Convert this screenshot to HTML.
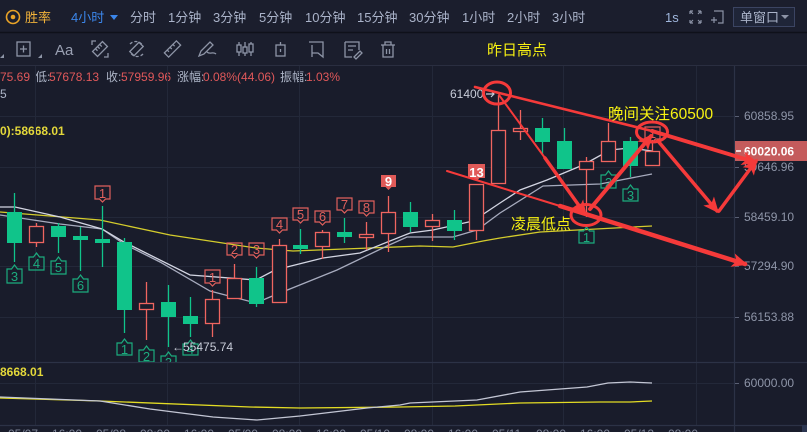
<!DOCTYPE html>
<html><head><meta charset="utf-8">
<style>
html,body{margin:0;padding:0;background:#191c2b;}
svg{display:block;}
text{font-family:"Liberation Sans","Noto Sans CJK SC",sans-serif;}
</style></head>
<body>
<svg width="807" height="432" viewBox="0 0 807 432" xmlns="http://www.w3.org/2000/svg">
<defs>
<clipPath id="main"><rect x="0" y="66" width="734" height="296"/></clipPath>
<clipPath id="sub"><rect x="0" y="363" width="734" height="62"/></clipPath>
<marker id="ah" markerWidth="16" markerHeight="14" refX="13" refY="7" orient="auto" markerUnits="userSpaceOnUse"><path d="M0,0 L16,7 L0,14 L4,7 Z" fill="#f53a3a"/></marker>
</defs>
<!-- backgrounds -->
<rect x="0" y="0" width="807" height="432" fill="#191c2b"/>
<rect x="0" y="0" width="807" height="65" fill="#1b1e2d"/>
<line x1="0" y1="32.5" x2="807" y2="32.5" stroke="#0f111a" stroke-width="1.5"/>
<line x1="0" y1="65.5" x2="807" y2="65.5" stroke="#2a2e40" stroke-width="1"/>

<!-- top bar -->
<circle cx="13" cy="17" r="6.5" fill="none" stroke="#e9a327" stroke-width="1.6"/>
<circle cx="13" cy="17" r="2.3" fill="#e9a327"/>
<g font-size="13" fill="#aab3c9">
<text x="25" y="22" fill="#f0b23a">胜率</text>
<text x="71" y="22" fill="#3b86ea">4小时</text>
<text x="130" y="22">分时</text>
<text x="168" y="22">1分钟</text>
<text x="213" y="22">3分钟</text>
<text x="259" y="22">5分钟</text>
<text x="305" y="22">10分钟</text>
<text x="357" y="22">15分钟</text>
<text x="409" y="22">30分钟</text>
<text x="462" y="22">1小时</text>
<text x="507" y="22">2小时</text>
<text x="552" y="22">3小时</text>
<text x="665" y="22" fill="#9fb6dc">1s</text>
</g>
<polygon points="110,15 118,15 114,20" fill="#3b86ea"/>
<g stroke="#8c93a6" stroke-width="1.2" fill="none">
<path d="M690,11 h3 M690,11 v3 M690,11 l3,3 M701,11 h-3 M701,11 v3 M701,11 l-3,3 M690,23 h3 M690,23 v-3 M690,23 l3,-3 M701,23 h-3 M701,23 v-3 M701,23 l-3,-3"/>
<path d="M714,11 h9 v12 h-5 M711,20 h6 M714,17 v6"/>
</g>
<rect x="733.5" y="7.5" width="61" height="19" fill="#1f2538" stroke="#3b4462" stroke-width="1"/>
<text x="740" y="22" font-size="13" fill="#aab3c9">单窗口</text>
<polygon points="781,15 789,15 785,19" fill="#8c93a6"/>

<!-- toolbar icons -->
<g stroke="#8e95a7" stroke-width="1.3" fill="none">
<polygon points="0,58 4,58 4,54" fill="#8e95a7" stroke="none"/>
<rect x="17" y="42" width="13" height="14"/>
<path d="M23.5,45.5 v7 M20,49 h7"/>
<polygon points="38,58 42,58 42,54" fill="#8e95a7" stroke="none"/>
<g transform="rotate(-45 100 49)"><rect x="93" y="45.5" width="14" height="7"/><path d="M97,45.5 v3 M100,45.5 v3 M103,45.5 v3"/></g>
<path d="M92,45 v-4 h4 M108,53 v4 h-4"/>
<path d="M130,44 a8,8 0 0 1 13,2 M143,54 a8,8 0 0 1 -13,-2" stroke-dasharray="3,2"/>
<g transform="rotate(-45 136.5 49)"><rect x="130" y="46" width="13" height="6"/></g>
<g transform="rotate(-45 172.5 49)"><rect x="164" y="46" width="17" height="6"/><path d="M168,46 v2.5 M172,46 v2.5 M176,46 v2.5"/></g>
<path d="M199,56 l2,-5 l9,-9 l3,3 l-9,9 z M207,52 c3,3 6,-1 9,2"/>
<path d="M239,42 v14 M245,42 v14 M251,42 v14"/>
<rect x="237" y="45" width="4" height="7" fill="#191c2b"/><rect x="243" y="47" width="4" height="6" fill="#191c2b"/><rect x="249" y="44" width="4" height="8" fill="#191c2b"/>
<rect x="276" y="45" width="9" height="11"/><path d="M280.5,42 v3 M280.5,49 v3"/>
<path d="M309,42 h14 v15 l-5,-4 h-6 M312,45 v12"/>
<path d="M345,42 h14 v8 M345,42 v15 h7 M348,46 h8 M348,50 h5 M354,57 l6,-6 l2,2 l-6,6 z"/>
<path d="M381,45 h14 M385,45 v-3 h6 v3 M383,45 v12 h10 v-12 M386.5,49 v5 M389.5,49 v5"/>
</g>
<text x="55" y="55" font-size="15" fill="#9aa0b2">Aa</text>
<text x="487" y="55" font-size="15" fill="#f5ef12">昨日高点</text>

<!-- info row -->
<g font-size="12">
<text x="0" y="81" fill="#e0585a">75.69</text>
<text x="35" y="81" fill="#aeb6c8">低:</text>
<text x="49" y="81" fill="#e0585a">57678.13</text>
<text x="106" y="81" fill="#aeb6c8">收:</text>
<text x="121" y="81" fill="#e0585a">57959.96</text>
<text x="177" y="81" fill="#aeb6c8">涨幅:</text>
<text x="203" y="81" fill="#e0585a">0.08%(44.06)</text>
<text x="280" y="81" fill="#aeb6c8">振幅:</text>
<text x="306" y="81" fill="#e0585a">1.03%</text>
<text x="0" y="98" fill="#aeb6c8">5</text>
<text x="0" y="135" fill="#e4d83a" font-weight="bold">0):58668.01</text>
</g>

<!-- grid -->
<g stroke="#232839" stroke-width="1">
<line x1="35.5" y1="66" x2="35.5" y2="425"/>
<line x1="167.5" y1="66" x2="167.5" y2="425"/>
<line x1="299.5" y1="66" x2="299.5" y2="425"/>
<line x1="432.5" y1="66" x2="432.5" y2="425"/>
<line x1="563.5" y1="66" x2="563.5" y2="425"/>
<line x1="696.5" y1="66" x2="696.5" y2="425"/>
<line x1="0" y1="116.5" x2="734" y2="116.5"/>
<line x1="0" y1="167.5" x2="734" y2="167.5"/>
<line x1="0" y1="217.5" x2="734" y2="217.5"/>
<line x1="0" y1="266.5" x2="734" y2="266.5"/>
<line x1="0" y1="317.5" x2="734" y2="317.5"/>
<line x1="0" y1="383.5" x2="734" y2="383.5"/>
</g>
<line x1="0" y1="362.5" x2="807" y2="362.5" stroke="#2c3246" stroke-width="1.2"/>
<line x1="0" y1="425.5" x2="807" y2="425.5" stroke="#2c3246" stroke-width="1.2"/>
<line x1="734.5" y1="66" x2="734.5" y2="432" stroke="#2c3246" stroke-width="1.2"/>

<!-- price axis -->
<g font-size="12" fill="#8e95a8">
<text x="744" y="120">60858.95</text>
<text x="744" y="171">59646.96</text>
<text x="744" y="221">58459.10</text>
<text x="744" y="270">57294.90</text>
<text x="744" y="321">56153.88</text>
<text x="744" y="387">60000.00</text>
<text x="744" y="441">59000.00</text>
</g>
<g stroke="#5a6074" stroke-width="1">
<line x1="735" y1="116.5" x2="739" y2="116.5"/><line x1="735" y1="167.5" x2="739" y2="167.5"/>
<line x1="735" y1="217.5" x2="739" y2="217.5"/><line x1="735" y1="266.5" x2="739" y2="266.5"/>
<line x1="735" y1="317.5" x2="739" y2="317.5"/><line x1="735" y1="383.5" x2="739" y2="383.5"/>
</g>
<rect x="735" y="141" width="72" height="20" fill="#c45b5c"/>
<line x1="736" y1="151" x2="741" y2="151" stroke="#fff" stroke-width="1.5"/>
<text x="744" y="155.5" font-size="12" font-weight="bold" fill="#ffffff">60020.06</text>
<rect x="802" y="425" width="5" height="7" fill="#2b3550"/>

<!-- time axis (cut off) -->
<g font-size="12" fill="#7d8497">
<text x="8" y="438">05/07</text><text x="52" y="438">16:00</text><text x="96" y="438">05/08</text>
<text x="140" y="438">08:00</text><text x="184" y="438">16:00</text><text x="228" y="438">05/09</text>
<text x="272" y="438">08:00</text><text x="316" y="438">16:00</text><text x="360" y="438">05/10</text>
<text x="404" y="438">08:00</text><text x="448" y="438">16:00</text><text x="492" y="438">05/11</text>
<text x="536" y="438">08:00</text><text x="580" y="438">16:00</text><text x="624" y="438">05/12</text>
<text x="668" y="438">08:00</text>
</g>

<!-- main chart -->
<g clip-path="url(#main)">
<!-- MA lines -->
<polyline fill="none" stroke="#d4cc2c" stroke-width="1.3" points="0,212 100,220 170,235 256,248 293,251 370,248 420,246 453,247 483,241 500,238 540,232 652,226"/>
<polyline fill="none" stroke="#a7abbe" stroke-width="1.3" points="0,215 20,218 60,224 102,229 124,244 160,262 210,291 256,303 270,297 337,270 387,246 407,237 453,237 477,230 500,213 543,186 600,184 652,174"/>
<polyline fill="none" stroke="#d3d5e2" stroke-width="1.3" points="0,207 15,207 60,217 102,229 124,242 190,275 256,280 275,270 323,258 360,253 410,233 433,230 473,221 500,203 520,190 547,180 583,165 610,150 630,148 652,151"/>

<!-- green candles -->
<g stroke="#10c48a" stroke-width="1.3" fill="#10c48a">
<line x1="14.5" y1="193" x2="14.5" y2="262"/><rect x="7" y="212" width="15" height="31" stroke="none"/>
<line x1="58.5" y1="223" x2="58.5" y2="253"/><rect x="51" y="226" width="15" height="11" stroke="none"/>
<line x1="80.5" y1="227" x2="80.5" y2="271"/><rect x="73" y="236" width="15" height="4" stroke="none"/>
<line x1="102.5" y1="206" x2="102.5" y2="267"/><rect x="95" y="239" width="15" height="4" stroke="none"/>
<line x1="124.5" y1="238" x2="124.5" y2="333"/><rect x="117" y="242" width="15" height="68" stroke="none"/>
<line x1="168.5" y1="285" x2="168.5" y2="347"/><rect x="161" y="302" width="15" height="15" stroke="none"/>
<line x1="190.5" y1="297" x2="190.5" y2="337"/><rect x="183" y="316" width="15" height="8" stroke="none"/>
<line x1="256.5" y1="267" x2="256.5" y2="307"/><rect x="249" y="278" width="15" height="26" stroke="none"/>
<line x1="300.5" y1="229" x2="300.5" y2="254"/><rect x="293" y="245" width="15" height="4" stroke="none"/>
<line x1="344.5" y1="218" x2="344.5" y2="243"/><rect x="337" y="232" width="15" height="5" stroke="none"/>
<line x1="410.5" y1="202" x2="410.5" y2="232"/><rect x="403" y="212" width="15" height="15" stroke="none"/>
<line x1="454.5" y1="210" x2="454.5" y2="240"/><rect x="447" y="220" width="15" height="11" stroke="none"/>
<line x1="542.5" y1="118" x2="542.5" y2="155"/><rect x="535" y="128" width="15" height="14" stroke="none"/>
<line x1="564.5" y1="128" x2="564.5" y2="169"/><rect x="557" y="141" width="15" height="28" stroke="none"/>
<line x1="630.5" y1="137" x2="630.5" y2="177"/><rect x="623" y="141" width="15" height="25" stroke="none"/>
</g>
<!-- red hollow candles -->
<g stroke="#ef6560" stroke-width="1.3" fill="#191c2b">
<line x1="36.5" y1="223" x2="36.5" y2="247"/><rect x="29.5" y="226.5" width="14" height="16"/>
<line x1="146.5" y1="282" x2="146.5" y2="340"/><rect x="139.5" y="303.5" width="14" height="6"/>
<line x1="212.5" y1="290" x2="212.5" y2="337"/><rect x="205.5" y="299.5" width="14" height="24"/>
<line x1="234.5" y1="264" x2="234.5" y2="299"/><rect x="227.5" y="278.5" width="14" height="20"/>
<line x1="279.5" y1="239" x2="279.5" y2="303"/><rect x="272.5" y="245.5" width="14" height="57"/>
<line x1="322.5" y1="230" x2="322.5" y2="259"/><rect x="315.5" y="232.5" width="14" height="14"/>
<line x1="366.5" y1="222" x2="366.5" y2="250"/><rect x="359.5" y="234.5" width="14" height="3"/>
<line x1="388.5" y1="196" x2="388.5" y2="252"/><rect x="381.5" y="212.5" width="14" height="21"/>
<line x1="432.5" y1="214" x2="432.5" y2="241"/><rect x="425.5" y="220.5" width="14" height="6"/>
<line x1="476.5" y1="184" x2="476.5" y2="240"/><rect x="469.5" y="184.5" width="14" height="46"/>
<line x1="498.5" y1="95" x2="498.5" y2="184"/><rect x="491.5" y="130.5" width="14" height="53"/>
<line x1="520.5" y1="110" x2="520.5" y2="140"/><rect x="513.5" y="128.5" width="14" height="3"/>
<line x1="586.5" y1="157" x2="586.5" y2="217"/><rect x="579.5" y="161.5" width="14" height="8"/>
<line x1="608.5" y1="123" x2="608.5" y2="162"/><rect x="601.5" y="141.5" width="14" height="20"/>
<line x1="652.5" y1="140" x2="652.5" y2="166"/><rect x="645.5" y="151.5" width="14" height="14"/>
</g>

<!-- green TD labels (below) -->
<g stroke="#1cab7e" stroke-width="1.2" fill="none">
<path d="M7,269 H11.5 L14.5,265 L17.5,269 H22 V283 H7 Z"/>
<path d="M29,257 H33.5 L36.5,253 L39.5,257 H44 V270 H29 Z"/>
<path d="M51,261 H55.5 L58.5,257 L61.5,261 H66 V274 H51 Z"/>
<path d="M73,279 H77.5 L80.5,275 L83.5,279 H88 V292 H73 Z"/>
<path d="M117,343 H121.5 L124.5,339 L127.5,343 H132 V355 H117 Z"/>
<path d="M139,350 H143.5 L146.5,346 L149.5,350 H154 V362 H139 Z"/>
<path d="M161,356 H165.5 L168.5,352 L171.5,356 H176 V368 H161 Z"/>
<path d="M183,344 H187.5 L190.5,340 L193.5,344 H198 V355 H183 Z"/>
<path d="M579,231 H583.5 L586.5,227 L589.5,231 H594 V243 H579 Z"/>
<path d="M601,175 H605.5 L608.5,171 L611.5,175 H616 V188 H601 Z"/>
<path d="M623,189 H627.5 L630.5,185 L633.5,189 H638 V201 H623 Z"/>
</g>
<g font-size="13" fill="#1cab7e" text-anchor="middle">
<text x="14.5" y="281">3</text><text x="36.5" y="268">4</text><text x="58.5" y="272">5</text>
<text x="80.5" y="290">6</text><text x="124.5" y="354">1</text><text x="146.5" y="361">2</text>
<text x="168.5" y="367">3</text><text x="190.5" y="354">4</text><text x="586.5" y="242">1</text>
<text x="608.5" y="187">2</text><text x="630.5" y="200">3</text>
</g>
<!-- red TD labels (above) -->
<g stroke="#e0605c" stroke-width="1.2" fill="none">
<path d="M95,186 H110 V199 H105.5 L102.5,202 L99.5,199 H95 Z"/>
<path d="M205,270 H220 V283 H215.5 L212.5,286 L209.5,283 H205 Z"/>
<path d="M227,243 H242 V255 H237.5 L234.5,258 L231.5,255 H227 Z"/>
<path d="M249,243 H264 V255 H259.5 L256.5,258 L253.5,255 H249 Z"/>
<path d="M272,218 H287 V230 H282.5 L279.5,233 L276.5,230 H272 Z"/>
<path d="M293,208 H308 V220 H303.5 L300.5,223 L297.5,220 H293 Z"/>
<path d="M315,211 H330 V222 H325.5 L322.5,225 L319.5,222 H315 Z"/>
<path d="M337,198 H352 V210 H347.5 L344.5,213 L341.5,210 H337 Z"/>
<path d="M359,201 H374 V213 H369.5 L366.5,216 L363.5,213 H359 Z"/>
<path d="M645,127 H660 V139 H655.5 L652.5,142 L649.5,139 H645 Z"/>
</g>
<g font-size="13" fill="#e0605c" text-anchor="middle">
<text x="102.5" y="198">1</text><text x="212.5" y="282">1</text><text x="234.5" y="254">2</text>
<text x="256.5" y="254">3</text><text x="279.5" y="229">4</text><text x="300.5" y="219">5</text>
<text x="322.5" y="221">6</text><text x="344.5" y="209">7</text><text x="366.5" y="212">8</text>
<text x="652.5" y="138">1</text>
</g>
<path d="M381,175 H396 V187 H391.5 L388.5,190 L385.5,187 H381 Z" fill="#e05a58"/>
<text x="388.5" y="186" font-size="13" font-weight="bold" fill="#fff" text-anchor="middle">9</text>
<path d="M468,164 H485 V178 H479.5 L476.5,181 L473.5,178 H468 Z" fill="#e05a58"/>
<text x="476.5" y="177" font-size="13" font-weight="bold" fill="#fff" text-anchor="middle">13</text>

<!-- price markers -->
<text x="450" y="98" font-size="12" fill="#c8ccd8">61400</text>
<path d="M486,94 h8 M491,91 l3,3 l-3,3" stroke="#c8ccd8" stroke-width="1.2" fill="none"/>
<text x="172" y="351" font-size="12" fill="#c8ccd8">←</text>
<text x="183" y="351" font-size="12" fill="#c8ccd8">55475.74</text>
</g>

<!-- sub chart -->
<g clip-path="url(#sub)">
<polyline fill="none" stroke="#e3dc24" stroke-width="1.3" points="0,398 100,401 250,407 300,408 400,407 455,406 520,403 600,402 630,402 652,401"/>
<polyline fill="none" stroke="#c3c6d4" stroke-width="1.3" points="0,397 100,401 150,409 213,417 257,420 300,416 367,408 400,405 410,403 477,400 520,392 587,387 608,383 630,382 652,383"/>
</g>
<text x="0" y="376" font-size="12" font-weight="bold" fill="#e4d83a">8668.01</text>

<!-- annotations -->
<g stroke="#f53a3a" fill="none" stroke-linecap="round">
<line x1="475" y1="87" x2="652" y2="131" stroke-width="2.6"/>
<line x1="652" y1="131" x2="755" y2="162" stroke-width="4" marker-end="url(#ah)"/>
<line x1="447" y1="171" x2="560" y2="206" stroke-width="2"/>
<line x1="560" y1="206" x2="745" y2="264" stroke-width="4.5" marker-end="url(#ah)"/>
<line x1="499" y1="95" x2="545" y2="158" stroke-width="2"/>
<line x1="545" y1="158" x2="585" y2="214" stroke-width="3.5" marker-end="url(#ah)"/>
<line x1="590" y1="209" x2="651" y2="136" stroke-width="4" marker-end="url(#ah)"/>
<line x1="658" y1="141" x2="717" y2="211" stroke-width="3.5" marker-end="url(#ah)"/>
<line x1="719" y1="211" x2="756" y2="161" stroke-width="3.5" marker-end="url(#ah)"/>
<ellipse cx="497" cy="93" rx="13.5" ry="11" stroke-width="3"/>
<ellipse cx="586" cy="215" rx="15" ry="10.5" stroke-width="3"/>
<ellipse cx="652" cy="132" rx="15.5" ry="10" stroke-width="3"/>
</g>
<text x="608" y="119" font-size="15.5" fill="#f8f212">晚间关注60500</text>
<text x="511" y="229" font-size="15" fill="#f8f212">凌晨低点</text>
</svg>
</body></html>
